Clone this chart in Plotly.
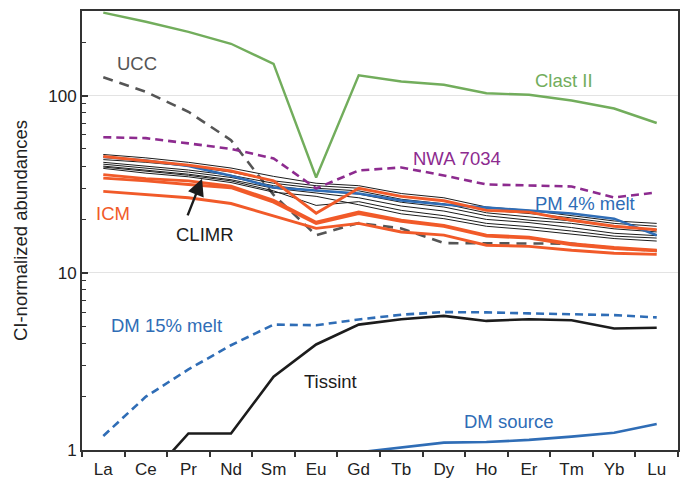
import math
import plotly.graph_objects as go

# Rare earth elements along the x axis
elements = ["La", "Ce", "Pr", "Nd", "Sm", "Eu", "Gd", "Tb", "Dy", "Ho", "Er", "Tm", "Yb", "Lu"]

# CI-normalized abundances
clast_ii = [294, 261, 229, 196, 151, 34.5, 130, 120, 115, 103, 101, 93.7, 84.5, 70]
ucc = [127, 105, 81, 56, 27.5, 16.3, 19.1, 17.8, 14.7, 14.7, 14.6, 14.6, 13.8, 13.3]
nwa_7034 = [58.2, 57.5, 53.7, 50, 44.2, 29.9, 37.8, 39.3, 35.4, 31.5, 31.1, 30.7, 26.6, 28.4]
pm_4pct_melt = [45, 43, 40, 35.3, 30.3, 29.1, 28.0, 25.6, 24.3, 23.3, 22.5, 21.6, 20.2, 16.3]
dm_15pct_melt = [1.20, 2.0, 2.85, 3.9, 5.1, 5.06, 5.45, 5.8, 6.0, 5.98, 5.9, 5.83, 5.77, 5.6]
dm_source = [0.55, 0.6, 0.66, 0.72, 0.85, 0.9, 0.97, 1.03, 1.10, 1.11, 1.14, 1.19, 1.25, 1.40]
tissint = [0.5, 0.67, 1.24, 1.24, 2.59, 3.94, 5.1, 5.47, 5.71, 5.35, 5.47, 5.4, 4.85, 4.9]

icm = [
    [45.3, 43, 40.5, 37.5, 33, 21.7, 30, 27, 25.5, 22.5, 22, 19.8, 18.3, 17.5],
    [35.8, 34, 33, 30.8, 25.6, 19.3, 22, 19.8, 18.5, 16.3, 15.9, 14.6, 13.9, 13.4],
    [34.2, 33, 31.5, 30.2, 25.0, 19.0, 21.6, 19.5, 18.3, 16.1, 15.7, 14.4, 13.7, 13.3],
    [28.8, 27.5, 26.5, 24.6, 21, 17.8, 19.0, 17.0, 16.3, 14.3, 14.1, 13.4, 12.9, 12.7],
]

climr = [
    [46.5, 44.5, 42, 39, 35, 32, 31, 28, 26.5, 23.5, 22.5, 21, 19.6, 19.0],
    [43.5, 42, 40, 37, 33, 31, 30, 27, 25.5, 22.6, 21.6, 20.4, 19.0, 18.3],
    [42, 40, 38, 35.5, 32, 30, 29, 26, 24.5, 21.8, 20.7, 19.6, 18.3, 17.5],
    [41, 39, 37, 34.5, 31, 29, 27.8, 25, 23.5, 21, 19.8, 19, 17.7, 17.0],
    [40, 38, 36, 33.5, 30, 28.2, 26.5, 23.8, 22.3, 20, 19.2, 18, 16.7, 16.2],
    [39.5, 37.5, 35.5, 33, 29, 24, 25.2, 22.5, 21, 19, 18.2, 17.2, 16.1, 15.7],
    [38.8, 36.5, 34.8, 32.3, 28.5, 27, 24.2, 21.5, 20.2, 18.3, 17.5, 16.5, 15.6, 15.1],
]

GREEN = "#72ad5c"
GRAY = "#555555"
PURPLE = "#8d2b8f"
BLUE = "#2f6db6"
RED = "#f15a29"
BLACK = "#1c1c1c"
FONT = "Liberation Sans, Arial, sans-serif"

fig = go.Figure()


def add_line(values, color, width, dash="solid"):
    fig.add_trace(go.Scatter(
        x=elements, y=values, mode="lines",
        line=dict(color=color, width=width, dash=dash),
        showlegend=False, hoverinfo="skip",
    ))


add_line(ucc, GRAY, 2.6, "10px,7px")
for series in climr:
    add_line(series, BLACK, 1.0)
add_line(pm_4pct_melt, BLUE, 2.6)
for series in icm:
    add_line(series, RED, 2.9)
add_line(nwa_7034, PURPLE, 2.6, "8px,5px")
add_line(clast_ii, GREEN, 2.4)
add_line(dm_15pct_melt, BLUE, 2.6, "8px,5px")
add_line(tissint, BLACK, 2.6)
add_line(dm_source, BLUE, 2.6)

# Series labels (x in category index units, y in log10 units)
labels = [
    ("UCC", 0.8, 151, GRAY),
    ("Clast II", 10.82, 121.5, GREEN),
    ("NWA 7034", 8.31, 44.2, PURPLE),
    ("PM 4% melt", 11.32, 24.6, BLUE),
    ("ICM", 0.235, 21.6, RED),
    ("CLIMR", 2.4, 16.5, BLACK),
    ("DM 15% melt", 1.48, 5.06, BLUE),
    ("Tissint", 5.34, 2.42, BLACK),
    ("DM source", 9.53, 1.44, BLUE),
]
for text, xi, yv, color in labels:
    fig.add_annotation(
        x=xi, y=math.log10(yv), text=text, showarrow=False,
        font=dict(family=FONT, size=18.5, color=color),
        xanchor="center", yanchor="middle",
    )

# Arrow pointing from the CLIMR label to the bundle of black lines
fig.add_annotation(
    x=2.32, y=math.log10(33.9), ax=-15, ay=38, axref="pixel", ayref="pixel",
    text="", showarrow=True, arrowhead=2, arrowsize=1.4, arrowwidth=2.4,
    arrowcolor=BLACK,
)

minor_vals = [m * 10 ** e for e in range(0, 3) for m in range(2, 10)]

fig.update_layout(
    width=686, height=479,
    margin=dict(l=82, r=8, t=11, b=29),
    paper_bgcolor="white", plot_bgcolor="white",
    font=dict(family=FONT, size=16, color="#222222"),
    showlegend=False,
)
fig.update_xaxes(
    type="category", range=[-0.5, 13.5], automargin=False,
    tickson="boundaries", ticks="outside", ticklen=5, tickwidth=1.5,
    tickcolor="#333333", showgrid=False, ticklabelstandoff=3,
    showline=True, linecolor="#333333", linewidth=2, mirror=True,
    tickfont=dict(family=FONT, size=17, color="#222222"),
)
fig.update_yaxes(
    type="log", range=[0, math.log10(300)], automargin=False,
    tickvals=[1, 10, 100], ticktext=["1", "10", "100"],
    ticks="inside", ticklen=6, tickwidth=1.5, tickcolor="#333333",
    minor=dict(tickvals=minor_vals, ticks="inside", ticklen=4, tickwidth=1.2,
               tickcolor="#333333", showgrid=False),
    showgrid=True, gridcolor="#e3e3e3", gridwidth=1.2, zeroline=False,
    showline=True, linecolor="#333333", linewidth=2, mirror=True,
    tickfont=dict(family=FONT, size=17, color="#222222"),
    title=dict(text="CI-normalized abundances", standoff=16,
               font=dict(family=FONT, size=18.5, color="#222222")),
)

fig.write_html("out.html")
